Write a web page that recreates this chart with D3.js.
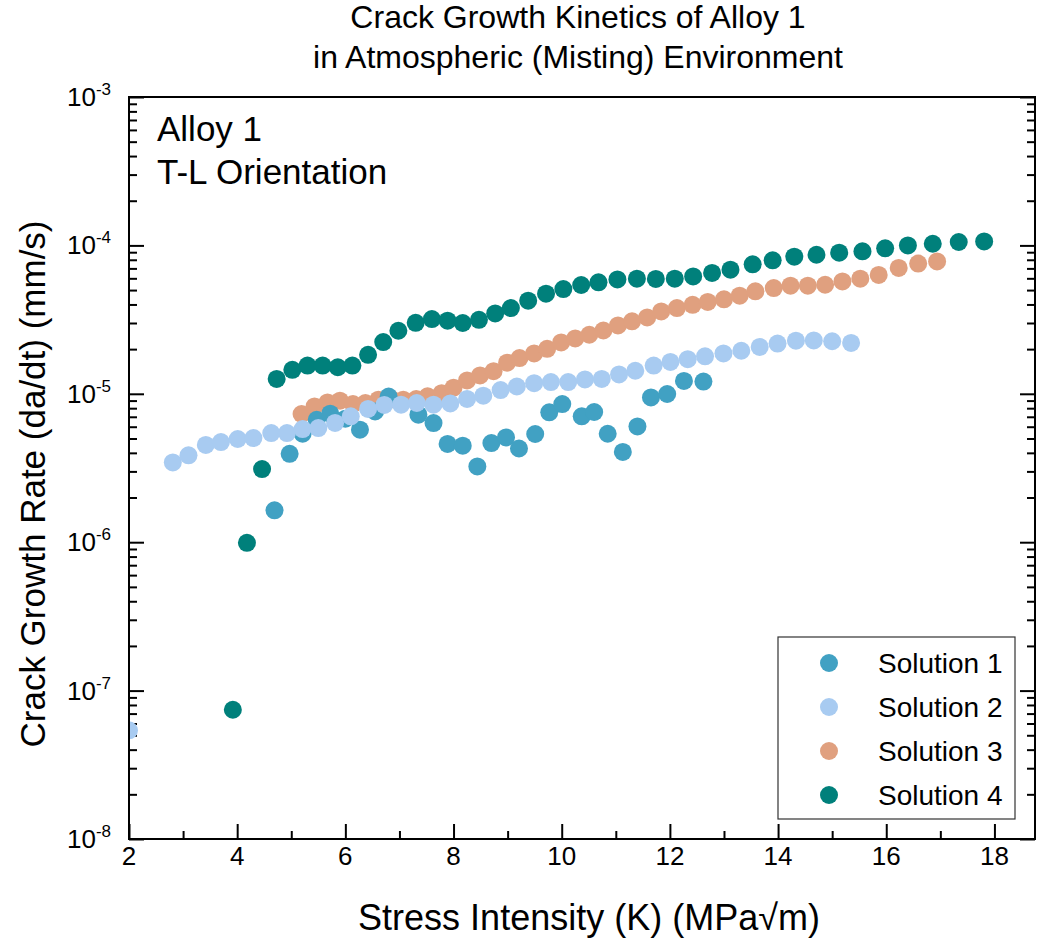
<!DOCTYPE html>
<html>
<head>
<meta charset="utf-8">
<script src="https://cdn.jsdelivr.net/npm/d3@7"></script>
<style>
  body { margin: 0; background: #fff; }
  svg { display: block; font-family: "Liberation Sans", Arial, sans-serif; }
  .axis path.domain { display: none; }
  .axis line { stroke: #000; stroke-width: 2; }
</style>
</head>
<body>
<div id="chart"></div>
<script>
(() => {
  // ===== data =====
  const seriesNames = ['Solution 1', 'Solution 2', 'Solution 3', 'Solution 4'];
  const seriesColors = ['#41a1c3', '#a8cbf1', '#e0a07f', '#00807b'];

  const kS1 = [4.69, 4.97, 5.21, 5.47, 5.72, 6.00, 6.27, 6.55, 6.80, 7.35, 7.63, 7.89, 8.17, 8.44,
    8.70, 8.97, 9.21, 9.51, 9.77, 10.01, 10.37, 10.60, 10.85, 11.13, 11.40, 11.65, 11.95, 12.26, 12.62];
  const rateS1 = [1.64e-6, 3.94e-6, 5.38e-6, 6.68e-6, 7.34e-6, 6.80e-6, 5.73e-6, 7.60e-6, 9.59e-6, 7.23e-6,
    6.35e-6, 4.59e-6, 4.47e-6, 3.24e-6, 4.66e-6, 5.08e-6, 4.28e-6, 5.36e-6, 7.50e-6, 8.53e-6,
    7.05e-6, 7.54e-6, 5.38e-6, 4.06e-6, 6.03e-6, 9.46e-6, 9.97e-6, 1.22e-5, 1.21e-5];

  const kS2 = [2.00, 2.81, 3.10, 3.42, 3.70, 4.01, 4.30, 4.63, 4.92, 5.21, 5.50, 5.81, 6.10, 6.42, 6.72,
    7.03, 7.32, 7.63, 7.94, 8.25, 8.55, 8.87, 9.17, 9.49, 9.80, 10.12, 10.43, 10.74, 11.06, 11.36,
    11.70, 12.01, 12.33, 12.65, 12.99, 13.32, 13.66, 13.99, 14.33, 14.66, 15.00, 15.35];
  const rateS2 = [5.4e-8, 3.45e-6, 3.85e-6, 4.52e-6, 4.73e-6, 4.96e-6, 5.03e-6, 5.44e-6, 5.44e-6, 5.79e-6,
    5.88e-6, 6.36e-6, 7.05e-6, 7.91e-6, 8.41e-6, 8.45e-6, 8.67e-6, 8.45e-6, 8.61e-6, 9.23e-6,
    9.71e-6, 1.06e-5, 1.12e-5, 1.18e-5, 1.20e-5, 1.20e-5, 1.25e-5, 1.26e-5, 1.35e-5, 1.43e-5,
    1.55e-5, 1.64e-5, 1.71e-5, 1.79e-5, 1.87e-5, 1.95e-5, 2.07e-5, 2.18e-5, 2.28e-5, 2.29e-5,
    2.26e-5, 2.20e-5];

  const kS3 = [5.19, 5.43, 5.67, 5.90, 6.14, 6.37, 6.61, 6.85, 7.07, 7.31, 7.52, 7.78, 8.00, 8.25, 8.49,
    8.74, 8.99, 9.22, 9.49, 9.73, 9.99, 10.25, 10.51, 10.77, 11.04, 11.30, 11.58, 11.84, 12.13,
    12.42, 12.70, 13.00, 13.29, 13.58, 13.92, 14.23, 14.55, 14.87, 15.19, 15.52, 15.86, 16.23,
    16.59, 16.94];
  const rateS3 = [7.31e-6, 8.22e-6, 8.75e-6, 8.98e-6, 8.53e-6, 8.67e-6, 9.12e-6, 9.22e-6, 9.12e-6, 9.22e-6,
    9.62e-6, 1.01e-5, 1.10e-5, 1.23e-5, 1.33e-5, 1.42e-5, 1.62e-5, 1.74e-5, 1.87e-5, 2.01e-5,
    2.22e-5, 2.36e-5, 2.50e-5, 2.67e-5, 2.89e-5, 3.08e-5, 3.27e-5, 3.59e-5, 3.78e-5, 3.98e-5,
    4.16e-5, 4.33e-5, 4.58e-5, 4.90e-5, 5.16e-5, 5.35e-5, 5.35e-5, 5.43e-5, 5.72e-5, 5.97e-5,
    6.32e-5, 7.05e-5, 7.54e-5, 7.80e-5];

  const kS4 = [3.92, 4.18, 4.46, 4.73, 5.02, 5.30, 5.58, 5.86, 6.13, 6.42, 6.70, 6.98, 7.30, 7.60, 7.89,
    8.17, 8.47, 8.77, 9.06, 9.38, 9.71, 10.03, 10.36, 10.68, 11.03, 11.39, 11.74, 12.09, 12.43,
    12.78, 13.12, 13.53, 13.90, 14.30, 14.71, 15.13, 15.56, 15.98, 16.40, 16.86, 17.34, 17.81];
  const rateS4 = [7.43e-8, 9.9e-7, 3.11e-6, 1.26e-5, 1.45e-5, 1.55e-5, 1.55e-5, 1.51e-5, 1.55e-5, 1.83e-5,
    2.23e-5, 2.66e-5, 3.01e-5, 3.19e-5, 3.11e-5, 3.00e-5, 3.15e-5, 3.48e-5, 3.78e-5, 4.24e-5,
    4.73e-5, 5.08e-5, 5.41e-5, 5.64e-5, 5.90e-5, 5.97e-5, 5.94e-5, 5.97e-5, 6.18e-5, 6.52e-5,
    6.86e-5, 7.45e-5, 7.93e-5, 8.39e-5, 8.65e-5, 8.93e-5, 9.12e-5, 9.55e-5, 1.00e-4, 1.026e-4,
    1.054e-4, 1.064e-4];

  const xMajorTicks = [2, 4, 6, 8, 10, 12, 14, 16, 18];
  const xMinorTicks = [3, 5, 7, 9, 11, 13, 15, 17];
  const yTickExponents = [-8, -7, -6, -5, -4, -3];

  const titleLines = ['Crack Growth Kinetics of Alloy 1', 'in Atmospheric (Misting) Environment'];
  const noteLines = ['Alloy 1', 'T-L Orientation'];

  // ===== layout =====
  const W = 1041, H = 945;
  const margin = { top: 97, right: 6, bottom: 106, left: 129 };
  const width = W - margin.left - margin.right;
  const height = H - margin.top - margin.bottom;

  const svg = d3.select('#chart').append('svg')
      .attr('width', W).attr('height', H);

  const g = svg.append('g')
      .attr('transform', `translate(${margin.left},${margin.top})`);

  const x = d3.scaleLinear().domain([2, 18.75]).range([0, width]);
  const y = d3.scaleLog().domain([1e-8, 1e-3]).range([height, 0]);

  // minor decade ticks 2..9
  const yMinor = [];
  yTickExponents.slice(0, -1).forEach(e => {
      for (let m = 2; m <= 9; m++) yMinor.push(m * Math.pow(10, e));
  });
  const yMajor = yTickExponents.map(e => Math.pow(10, e));

  // ticks (all pointing inward)
  g.append('g').attr('class', 'axis').attr('transform', `translate(0,${height})`)
      .call(d3.axisBottom(x).tickValues(xMajorTicks).tickSize(-15).tickFormat(''));
  g.append('g').attr('class', 'axis').attr('transform', `translate(0,${height})`)
      .call(d3.axisBottom(x).tickValues(xMinorTicks).tickSize(-8).tickFormat(''));
  g.append('g').attr('class', 'axis')
      .call(d3.axisLeft(y).tickValues(yMajor).tickSize(-15).tickFormat(''));
  g.append('g').attr('class', 'axis')
      .call(d3.axisLeft(y).tickValues(yMinor).tickSize(-8).tickFormat(''));
  g.append('g').attr('class', 'axis').attr('transform', `translate(${width},0)`)
      .call(d3.axisRight(y).tickValues(yMajor).tickSize(-15).tickFormat(''));
  g.append('g').attr('class', 'axis').attr('transform', `translate(${width},0)`)
      .call(d3.axisRight(y).tickValues(yMinor).tickSize(-8).tickFormat(''));

  // x tick labels
  g.selectAll('.xlab').data(xMajorTicks).enter()
      .append('text').attr('class', 'xlab')
      .attr('x', d => x(d)).attr('y', height + 26)
      .attr('text-anchor', 'middle').attr('font-size', 26).attr('fill', '#000')
      .text(d => d);

  // y tick labels 10^n
  const ylab = g.selectAll('.ylab').data(yTickExponents).enter()
      .append('text').attr('class', 'ylab')
      .attr('x', -18).attr('y', d => y(Math.pow(10, d)) + 9)
      .attr('text-anchor', 'end').attr('font-size', 26).attr('fill', '#000');
  ylab.append('tspan').text('10');
  ylab.append('tspan').attr('font-size', 17).attr('dy', -11).text(d => d);

  // points, clipped to plot area
  svg.append('defs').append('clipPath').attr('id', 'plotclip')
      .append('rect').attr('width', width).attr('height', height);

  const series = [
      { name: seriesNames[0], color: seriesColors[0], k: kS1, rate: rateS1 },
      { name: seriesNames[1], color: seriesColors[1], k: kS2, rate: rateS2 },
      { name: seriesNames[2], color: seriesColors[2], k: kS3, rate: rateS3 },
      { name: seriesNames[3], color: seriesColors[3], k: kS4, rate: rateS4 }
  ];
  const drawOrder = [3, 2, 0, 1];

  const pts = g.append('g').attr('clip-path', 'url(#plotclip)');
  drawOrder.forEach(i => {
      const s = series[i];
      pts.selectAll(null).data(s.k.map((k, j) => ({ k, r: s.rate[j] }))).enter()
          .append('circle')
          .attr('cx', d => x(d.k)).attr('cy', d => y(d.r))
          .attr('r', 9).attr('fill', s.color);
  });

  // frame
  g.append('rect').attr('width', width).attr('height', height)
      .attr('fill', 'none').attr('stroke', '#000').attr('stroke-width', 2);

  // note in the corner
  g.selectAll('.note').data(noteLines).enter()
      .append('text').attr('class', 'note')
      .attr('x', 28).attr('y', (d, i) => 44 + i * 43)
      .attr('font-size', 35).attr('fill', '#000').text(d => d);

  // legend (box 237 x 182, 20px from right edge)
  const legW = 237, legH = 182;
  const legend = g.append('g').attr('transform', `translate(${width - 20 - legW},540)`);
  legend.append('rect').attr('width', legW).attr('height', legH)
      .attr('fill', '#fff').attr('stroke', '#333').attr('stroke-width', 1.2);
  series.forEach((s, i) => {
      legend.append('circle').attr('cx', 51).attr('cy', 26 + i * 44).attr('r', 9).attr('fill', s.color);
      legend.append('text').attr('x', 100).attr('y', 26 + i * 44 + 10)
          .attr('font-size', 28).attr('fill', '#000').text(s.name);
  });

  // titles
  svg.selectAll('.title').data(titleLines).enter()
      .append('text').attr('class', 'title')
      .attr('x', 578).attr('y', (d, i) => 28 + i * 40)
      .attr('text-anchor', 'middle').attr('font-size', 32).attr('fill', '#000')
      .text(d => d);

  svg.append('text')
      .attr('x', 589).attr('y', 930)
      .attr('text-anchor', 'middle').attr('font-size', 36).attr('fill', '#000')
      .text('Stress Intensity (K) (MPa\u221Am)');

  svg.append('text')
      .attr('transform', 'translate(45,484) rotate(-90)')
      .attr('text-anchor', 'middle').attr('font-size', 35).attr('fill', '#000')
      .text('Crack Growth Rate (da/dt) (mm/s)');
})();
</script>
</body>
</html>
